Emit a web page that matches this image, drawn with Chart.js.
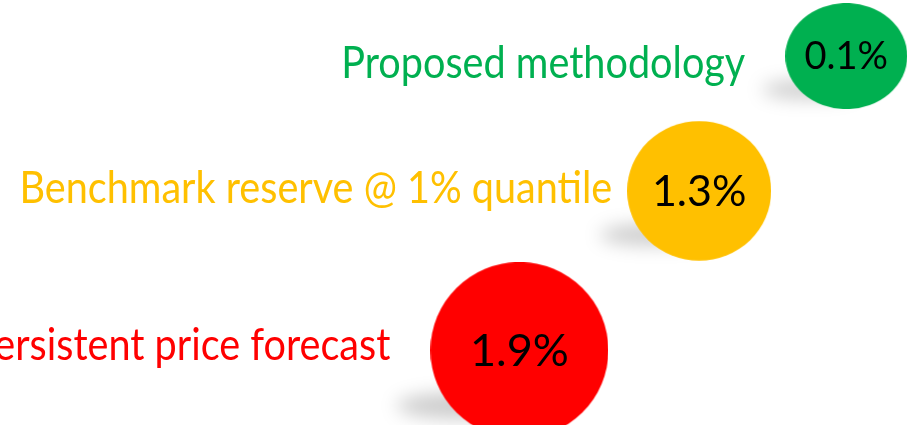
<!DOCTYPE html>
<html>
<head>
<meta charset="utf-8">
<script src="https://cdn.jsdelivr.net/npm/chart.js@4.4.1/dist/chart.umd.min.js"></script>
<style>
    html, body { margin: 0; padding: 0; background: #fff; }
    #wrap { width: 908px; height: 425px; position: relative; }
</style>
</head>
<body>
<div id="wrap"><canvas id="errChart"></canvas></div>
<script>
// Veriler
var methods = ['Proposed methodology', 'Benchmark reserve @ 1% quantile', 'Persistent price forecast'];
var errorPct = [0.1, 1.3, 1.9];
var bubbleX = [93.2, 77.0, 57.2];
var bubbleY = [86.8, 55.1, 17.6];
var bubbleSize = [61, 72, 89];
var colors = ['#00B050', '#FFC000', '#FF0000'];

// Stil ayarları
var bubbleAspect = [0.87, 0.97, 0.99];
var labelGap = [40, 15, 40];
var labelBaseline = [22, 12, 10];
var valueFont = [38, 43, 45];
var labelFont = 44;
var labelStretch = 0.9;

var points = bubbleX.map(function (x, i) {
    return { x: x, y: bubbleY[i], r: bubbleSize[i] };
});

// Elips şeklinde balon resimleri
var bubbleImages = bubbleSize.map(function (r, i) {
    var c = document.createElement('canvas');
    var ry = r * bubbleAspect[i];
    c.width = Math.round(r * 2);
    c.height = Math.round(ry * 2);
    var g = c.getContext('2d');
    g.fillStyle = colors[i];
    g.beginPath();
    g.ellipse(c.width / 2, c.height / 2, r, ry, 0, 0, Math.PI * 2);
    g.fill();
    return c;
});

// Gölgeler (balonların altında)
var shadowPlugin = {
    id: 'shadows',
    beforeDatasetsDraw: function (chart) {
        var ctx = chart.ctx;
        var meta = chart.getDatasetMeta(0);
        meta.data.forEach(function (el, i) {
            var r = bubbleSize[i];
            var ry = r * bubbleAspect[i];
            ctx.save();
            ctx.filter = 'blur(9px)';
            ctx.fillStyle = 'rgba(0,0,0,0.2)';
            ctx.beginPath();
            ctx.ellipse(el.x - 0.6 * r, el.y + 0.63 * ry, 0.78 * r, 0.15 * r, 0, 0, Math.PI * 2);
            ctx.fill();
            ctx.restore();
        });
    }
};

// Etiketler ve değerler
var textPlugin = {
    id: 'texts',
    afterDatasetsDraw: function (chart) {
        var ctx = chart.ctx;
        var meta = chart.getDatasetMeta(0);
        meta.data.forEach(function (el, i) {
            var r = bubbleSize[i];
            ctx.save();
            ctx.textBaseline = 'middle';
            ctx.fillStyle = '#000';
            ctx.textAlign = 'center';
            ctx.font = valueFont[i] + 'px Lato';
            ctx.fillText(errorPct[i].toFixed(1) + '%', el.x, el.y + 1);

            ctx.fillStyle = colors[i];
            ctx.textAlign = 'right';
            ctx.textBaseline = 'alphabetic';
            ctx.font = labelFont + 'px Lato';
            var w = ctx.measureText(methods[i]).width * labelStretch;
            ctx.fillText(methods[i], el.x - r - labelGap[i], el.y + labelBaseline[i], w);
            ctx.restore();
        });
    }
};

var ctx = document.getElementById('errChart').getContext('2d');
var errChart = new Chart(ctx, {
    type: 'bubble',
    data: {
        datasets: [{
            data: points,
            backgroundColor: colors,
            borderWidth: 0,
            hoverRadius: 0,
            pointStyle: function (c) { return bubbleImages[c.dataIndex]; },
            clip: false
        }]
    },
    options: {
        responsive: true,
        maintainAspectRatio: false,
        animation: false,
        layout: { padding: 0, autoPadding: false },
        plugins: {
            legend: { display: false },
            tooltip: { enabled: false }
        },
        scales: {
            x: { display: false, min: 0, max: 100 },
            y: { display: false, min: 0, max: 100 }
        }
    },
    plugins: [shadowPlugin, textPlugin]
});
</script>
</body>
</html>
